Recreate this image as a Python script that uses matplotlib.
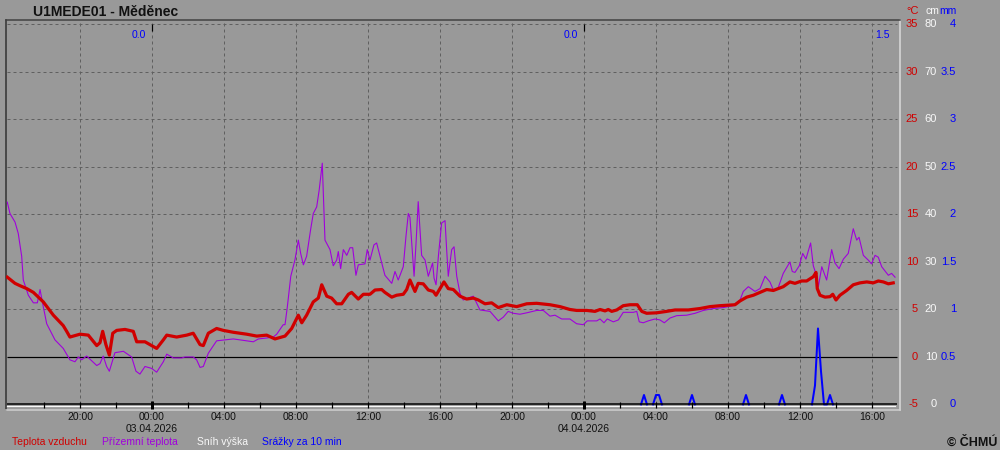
"""Station chart U1MEDE01 - Měděnec: air / ground temperature, snow, 10-min precipitation."""
import matplotlib
matplotlib.use("Agg")
import matplotlib.pyplot as plt  # noqa: E402
import matplotlib.transforms as mtransforms  # noqa: E402
import numpy as np  # noqa: E402

plt.rcParams['font.family'] = ['Liberation Sans', 'DejaVu Sans']

# time axis: hours relative to 03.04.2026 00:00
t_air = [-8.04, -7.61, -7.33, -6.96, -6.59, -6.04, -5.48, -4.93, -4.74, -4.56,
         -4.0, -3.54, -3.07, -2.89, -2.74, -2.56, -2.37, -2.18, -1.96, -1.5,
         -1.04, -0.85, -0.39, -0.11, 0.26, 0.63, 0.82, 1.37, 1.93, 2.29,
         2.67, 2.85, 3.13, 3.59, 3.96, 4.52, 5.26, 5.82, 6.37, 6.83,
         7.39, 7.76, 8.13, 8.32, 8.59, 8.96, 9.24, 9.43, 9.71, 9.98,
         10.26, 10.54, 10.91, 11.09, 11.46, 11.74, 12.11, 12.39, 12.76, 12.94,
         13.32, 13.59, 13.96, 14.15, 14.33, 14.61, 14.79, 15.07, 15.35, 15.63,
         15.78, 16.0, 16.22, 16.46, 16.74, 17.11, 17.48, 17.85, 18.13, 18.5,
         18.87, 19.24, 19.71, 20.26, 20.82, 21.37, 22.11, 22.67, 23.22, 23.59,
         24.15, 24.61, 24.89, 25.17, 25.35, 25.54, 25.82, 26.18, 26.56, 26.96,
         27.21, 27.48, 28.04, 28.59, 29.06, 29.79, 30.44, 31.0, 31.56, 32.39,
         32.67, 33.04, 33.41, 33.78, 34.15, 34.52, 34.79, 35.07, 35.44, 35.72,
         36.09, 36.37, 36.74, 36.89, 36.96, 37.11, 37.39, 37.67, 37.82, 38.0,
         38.22, 38.59, 38.96, 39.33, 39.71, 40.07, 40.35, 40.63, 40.91, 41.18]
air_temp = [8.4, 7.75, 7.5, 7.2, 6.8, 5.8, 4.4, 3.3, 2.7, 2.1,
            2.4, 2.3, 1.2, 1.5, 2.7, 1.3, 0.2, 2.5, 2.8, 2.9,
            2.7, 1.6, 1.6, 1.3, 0.9, 1.8, 2.3, 2.1, 2.3, 2.5,
            1.3, 1.2, 2.5, 3.0, 2.8, 2.6, 2.4, 2.2, 2.3, 1.9,
            2.2, 3.0, 4.4, 3.6, 4.4, 5.8, 6.2, 7.6, 6.4, 6.2,
            5.6, 5.6, 6.6, 6.8, 6.1, 6.6, 6.6, 7.05, 7.1, 6.8,
            6.3, 6.5, 6.6, 7.1, 8.1, 6.9, 7.75, 7.7, 7.05, 6.9,
            6.5, 7.2, 7.9, 7.2, 7.1, 6.4, 6.1, 6.2, 6.0, 5.6,
            5.7, 5.2, 5.5, 5.3, 5.6, 5.65, 5.5, 5.3, 5.0, 4.9,
            4.9, 4.8, 5.0, 4.85, 5.0, 4.8, 4.95, 5.4, 5.5, 5.5,
            4.8, 4.6, 4.65, 4.8, 4.95, 4.95, 5.1, 5.3, 5.4, 5.5,
            5.9, 6.3, 6.5, 6.8, 7.1, 7.0, 7.2, 7.4, 7.9, 7.75,
            8.0, 8.0, 8.45, 8.9, 7.2, 6.5, 6.3, 6.35, 6.6, 6.0,
            6.5, 7.0, 7.6, 7.8, 7.9, 7.8, 8.0, 7.9, 7.7, 7.8]

t_ground = [-8.04, -7.89, -7.61, -7.43, -7.24, -7.15, -6.87, -6.59, -6.37, -6.22,
            -6.04, -5.85, -5.39, -4.93, -4.56, -4.28, -4.09, -3.91, -3.63, -3.07,
            -2.89, -2.71, -2.52, -2.37, -2.06, -1.59, -1.13, -0.89, -0.67, -0.39,
            -0.02, 0.26, 0.63, 0.82, 1.18, 1.65, 1.83, 2.29, 2.48, 2.67,
            2.85, 3.13, 3.59, 4.52, 5.63, 5.91, 6.37, 6.74, 6.93, 7.29,
            7.39, 7.52, 7.71, 7.94, 8.13, 8.26, 8.41, 8.59, 8.82, 8.96,
            9.15, 9.29, 9.46, 9.61, 9.89, 10.07, 10.26, 10.35, 10.48, 10.63,
            10.82, 11.0, 11.15, 11.33, 11.46, 11.83, 11.96, 12.11, 12.33, 12.48,
            12.67, 12.94, 13.32, 13.5, 13.68, 13.96, 14.11, 14.24, 14.33, 14.43,
            14.56, 14.67, 14.79, 14.98, 15.17, 15.35, 15.59, 15.67, 15.78, 15.91,
            16.09, 16.28, 16.37, 16.46, 16.65, 16.78, 16.93, 17.11, 17.29, 17.85,
            18.22, 18.78, 19.24, 19.52, 19.79, 20.07, 20.44, 20.82, 21.37, 21.74,
            22.11, 22.39, 22.76, 23.22, 23.59, 23.96, 24.18, 24.71, 24.89, 25.11,
            25.29, 25.63, 25.91, 26.18, 26.74, 26.93, 27.07, 27.29, 27.57, 27.94,
            28.22, 28.46, 28.78, 29.15, 29.71, 30.17, 30.63, 31.18, 31.74, 32.29,
            32.67, 32.85, 33.13, 33.5, 33.78, 34.06, 34.33, 34.52, 34.79, 35.07,
            35.44, 35.57, 35.72, 35.96, 36.15, 36.33, 36.59, 36.74, 36.93, 37.02,
            37.21, 37.48, 37.76, 37.94, 38.17, 38.41, 38.68, 38.96, 39.15, 39.28,
            39.52, 39.79, 39.98, 40.17, 40.35, 40.54, 40.91, 41.09, 41.28]
ground_temp = [16.3, 15.1, 14.2, 13.0, 10.6, 8.1, 6.5, 5.7, 5.7, 7.1,
               5.3, 3.5, 1.8, 0.9, -0.3, -0.5, 0.0, -0.3, 0.1, -0.9,
               -0.7, 0.1, -1.0, -1.5, 0.45, 0.6, 0.0, -1.5, -1.8, -1.0,
               -1.2, -1.6, -0.5, 0.3, -0.1, -0.1, 0.0, 0.0, -0.3, -1.1,
               -1.0, 0.4, 1.7, 1.9, 1.6, 1.9, 2.0, 2.1, 2.4, 3.4,
               3.4, 5.3, 8.5, 10.2, 12.3, 10.9, 9.7, 10.6, 13.5, 15.1,
               15.8, 17.6, 20.4, 12.3, 11.3, 9.6, 10.2, 11.1, 9.3, 11.3,
               10.7, 11.5, 11.5, 8.6, 9.7, 9.8, 11.3, 10.2, 11.8, 12.0,
               10.6, 8.6, 7.75, 9.0, 8.1, 9.5, 12.7, 15.1, 14.7, 12.0,
               8.5, 12.0, 16.35, 10.7, 10.2, 8.5, 9.9, 8.3, 7.6, 10.6,
               14.1, 14.35, 11.3, 8.5, 11.3, 11.6, 8.5, 6.7, 6.0, 6.4,
               4.95, 4.8, 3.8, 4.2, 4.8, 4.6, 4.5, 4.65, 4.9, 4.9,
               4.3, 4.4, 4.0, 4.0, 3.5, 3.4, 3.8, 3.8, 4.0, 3.6,
               4.0, 3.7, 3.9, 4.7, 4.7, 4.8, 3.7, 3.6, 3.8, 4.0,
               3.9, 3.6, 4.1, 4.35, 4.4, 4.6, 4.9, 5.1, 5.2, 5.4,
               6.0, 6.9, 7.4, 6.9, 7.2, 8.5, 7.9, 7.05, 7.3, 8.8,
               10.0, 9.0, 8.9, 9.6, 10.9, 10.3, 12.0, 9.6, 8.5, 7.4,
               9.5, 8.1, 11.3, 9.9, 9.3, 10.3, 10.9, 13.5, 12.3, 12.6,
               10.7, 10.2, 9.8, 10.7, 10.5, 9.5, 8.6, 8.8, 8.4]

# 10-minute precipitation (only non-zero intervals listed)
precip_t = [27.33, 28.0, 28.17, 30.0, 33.0, 35.0, 36.83, 37.0, 37.17, 37.67]
precip_mm = [0.1, 0.1, 0.1, 0.1, 0.1, 0.1, 0.2, 0.8, 0.35, 0.1]

snow_t = [-8.05, 41.3]
snow_cm = [0, 0]

day_end_t = [0, 24, 41.3]
day_sum = ["0.0", "0.0", "1.5"]
date_t = [0, 24]
date_labels = ["03.04.2026", "04.04.2026"]

BG = "#999999"
RED = "#d00000"
PURPLE = "#a000dc"
BLUE = "#0000ff"
WHITE = "#f8f8f8"
GRID = "#606060"
PX = 0.72  # one pixel in points at 100 dpi

T0, T1 = -8.111, 41.556
Y0, Y1 = -5.58, 35.47


def cm_to_c(v):
    return np.asarray(v) / 2.0 - 5


def mm_to_c(v):
    return np.asarray(v) * 10.0 - 5


fig = plt.figure(figsize=(10, 4.5), dpi=100, facecolor=BG)
ax = fig.add_axes([0.006, 1 - 410 / 450, 0.894, 390 / 450], facecolor=BG)
ax.set_xlim(T0, T1)
ax.set_ylim(Y0, Y1)
ax.set_xticks([]); ax.set_yticks([])
for side, col in (("left", "#303030"), ("top", "#404040"),
                  ("right", "#dcdcdc"), ("bottom", "#d0d0d0")):
    ax.spines[side].set_color(col)
    ax.spines[side].set_linewidth(1.5 * PX)

# grid
t_end = t_ground[-1] + 0.1
for v in range(5, 36, 5):
    ax.hlines(v, t_air[0], t_end, color=GRID, lw=PX, linestyles=(0, (3, 3)), zorder=1)
for h in range(-4, 41, 4):
    ax.vlines(h, -5, Y1, color=GRID, lw=PX, linestyles=(0, (3, 3)), zorder=1)
ax.hlines(0, t_air[0], t_end, color="black", lw=PX * 1.2, zorder=2)

# series
ax.plot(t_ground, ground_temp, color=PURPLE, lw=1.1 * PX, zorder=3)
ax.plot(t_air, air_temp, color=RED, lw=3.2 * PX, zorder=4)

grid10 = np.arange(-8 * 6, 42 * 6) / 6.0
rain = np.zeros(len(grid10))
for t, v in zip(precip_t, precip_mm):
    rain[int(round((t + 8) * 6))] = v
near = np.maximum.reduce([rain, np.r_[0, rain[:-1]], np.r_[rain[1:], 0]])
rain_plot = np.ma.masked_where(near == 0, mm_to_c(rain))
ax.plot(grid10, rain_plot, color=BLUE, lw=2 * PX, zorder=5)

# time axis line with ticks
ax.hlines(-5, t_air[0], t_end, color="black", lw=1.5 * PX, zorder=6)
snow_tr = mtransforms.offset_copy(ax.transData, fig=fig, y=-1.5, units="dots")
ax.plot(snow_t, cm_to_c(snow_cm), color=WHITE, lw=1.2 * PX, transform=snow_tr, zorder=6)
for h in range(-6, 41, 2):
    if h % 24 == 0:
        ax.vlines(h, -5.47, -4.61, color="black", lw=3 * PX, zorder=7)
        ax.vlines(h, 34.35, 35, color="black", lw=1.2 * PX, zorder=7)
    else:
        ax.vlines(h, -5.41, -4.72, color="black", lw=1.2 * PX, zorder=7)

# time labels below
xfig = mtransforms.blended_transform_factory(ax.transData, fig.transFigure)
for h in range(-4, 41, 4):
    ax.text(h, 1 - 420 / 450, f"{h % 24:02d}:00", transform=xfig, ha="center",
            va="baseline", fontsize=7.5, color="#111111", clip_on=False)
for t, lab in zip(date_t, date_labels):
    ax.text(t, 1 - 431.5 / 450, lab, transform=xfig, ha="center",
            va="baseline", fontsize=7.5, color="#111111", clip_on=False)

# daily precipitation sums on top
for t, s in zip(day_end_t, day_sum):
    ax.text(t - 0.33, 33.9, s, ha="right", va="center", fontsize=7.5, color=BLUE)

# right-hand scales
yfig = mtransforms.blended_transform_factory(fig.transFigure, ax.transData)
for temp in range(35, -6, -5):
    fig.text(0.918, temp, f"{temp}", transform=yfig, ha="right", va="center",
             fontsize=8, color=RED)
    fig.text(0.937, temp, f"{(temp + 5) * 2}", transform=yfig, ha="right", va="center",
             fontsize=8, color=WHITE)
    fig.text(0.956, temp, f"{(temp + 5) / 10:g}", transform=yfig, ha="right",
             va="center", fontsize=8, color=BLUE)
fig.text(0.919, 1 - 11.5 / 450, "°C", ha="right", va="center", fontsize=8, color=RED)
fig.text(0.9395, 1 - 11.5 / 450, "cm", ha="right", va="center", fontsize=7.5, color=WHITE)
fig.text(0.9565, 1 - 11.5 / 450, "mm", ha="right", va="center", fontsize=7.5, color=BLUE)

# title, legend, credit
fig.text(0.033, 1 - 15.7 / 450, "U1MEDE01 - Měděnec", ha="left", va="baseline",
         fontsize=10, fontweight="bold", color="#111111")
legend = [("Teplota vzduchu", RED, 0.012), ("Přízemní teplota", PURPLE, 0.102),
          ("Sníh výška", WHITE, 0.197), ("Srážky za 10 min", BLUE, 0.262)]
for lab, col, x in legend:
    fig.text(x, 1 - 445 / 450, lab, ha="left", va="baseline", fontsize=7.5, color=col)
fig.text(0.997, 1 - 445.7 / 450, "© ČHMÚ", ha="right", va="baseline",
         fontsize=9, fontweight="bold", color="#111111")

fig.savefig("out.png", dpi=100, facecolor=BG)
plt.close(fig)
